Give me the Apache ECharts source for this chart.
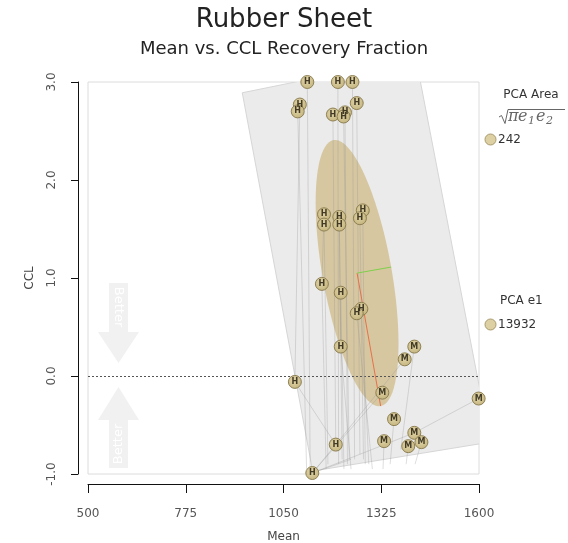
<!DOCTYPE html>
<html>
<head>
<meta charset="utf-8">
<script src="https://cdn.jsdelivr.net/npm/echarts@6/dist/echarts.min.js"></script>
<style>html,body{margin:0;padding:0;background:#fff;}#chart{width:568px;height:543px;}</style>
</head>
<body>
<div id="chart"></div>
<script>
// ---- data ----
const xTicks = [500, 775, 1050, 1325, 1600];
const yTicks = [-1, 0, 1, 2, 3];
const ptX = [1117, 1203, 1244, 1096, 1090, 1256, 1189, 1223, 1219,
             1164, 1164, 1207, 1207, 1273, 1265, 1158, 1211, 1269, 1256,
             1211, 1418, 1391, 1082, 1328, 1599, 1361, 1197, 1333, 1418, 1438, 1401, 1131];
const ptY = [3.0, 3.0, 3.0, 2.77, 2.70, 2.785, 2.668, 2.69, 2.648,
             1.65, 1.545, 1.623, 1.545, 1.69, 1.61, 0.94, 0.85, 0.685, 0.64,
             0.30, 0.30, 0.17, -0.06, -0.17, -0.23, -0.44, -0.70, -0.665, -0.58, -0.675, -0.716, -0.99];
const ptLabel = ['H','H','H','H','H','H','H','H','H',
                 'H','H','H','H','H','H','H','H','H','H',
                 'H','M','M','H','M','M','M','H','M','M','M','M','H'];
const endX = [1125, 1205, 1250, 1082, 1115, 1265, 1197, 1230, 1235,
              1158, 1175, 1211, 1215, 1280, 1275, 1170, 1220, 1290, 1300,
              1240, 1380, 1197, 1197, 1131, 1418, 1350, 1131, 1330, 1131, 1420, 1395, 1240];
const endY = [-0.95, -0.9, -0.85, -0.06, -0.95, -0.8, -0.70, -0.9, -0.85,
              0.94, -0.9, 0.30, -0.85, -0.9, -0.85, -0.95, -0.95, -0.9, -0.95,
              -0.95, -0.75, -0.70, -0.70, -0.99, -0.58, -0.9, -0.99, -0.95, -0.99, -0.9, -0.9, -0.85];
const sheetX = [934, 1422, 1631, 1132];
const sheetY = [2.89, 3.25, -0.675, -0.97];
const ellCenter = [1257, 1.05];
const ellMajor = [66.3, -1.357];
const ellMinor = [95.9, 0.0615];
const legendArea = 242;
const legendE1 = 13932;

// ---- chart ----
const chart = echarts.init(document.getElementById('chart'), null, {renderer: 'canvas'});
const FONT = 'DejaVu Sans';

const pointData = ptX.map((x, i) => [x, ptY[i], ptLabel[i]]);
const linkData = ptX.map((x, i) => [x, ptY[i], endX[i], endY[i]]);

function clipRect(params) {
  const c = params.coordSys;
  return {type: 'rect', shape: {x: c.x, y: c.y, width: c.width, height: c.height}};
}

function mathText(x, y, txt, size) {
  return {type: 'text', x: x, y: y, silent: true,
          style: {text: txt, fill: '#666', font: 'italic ' + size + 'px DejaVu Serif',
                  align: 'left', verticalAlign: 'middle'}};
}

const option = {
  backgroundColor: '#ffffff',
  animation: false,
  title: [
    {text: 'Rubber Sheet', left: 'center', top: 2,
     textStyle: {fontFamily: FONT, fontSize: 26, fontWeight: 'normal', color: '#222'}},
    {text: 'Mean vs. CCL Recovery Fraction', left: 'center', top: 35,
     textStyle: {fontFamily: FONT, fontSize: 18, fontWeight: 'normal', color: '#222'}}
  ],
  grid: {left: 88, right: 89, top: 82, bottom: 69, show: true, containLabel: false,
         outerBoundsMode: 'none',
         borderColor: '#dcdcdc', borderWidth: 1, backgroundColor: 'transparent'},
  xAxis: {
    type: 'value', min: 500, max: 1600, offset: 10,
    name: 'Mean', nameLocation: 'middle', nameGap: 47,
    nameTextStyle: {fontFamily: FONT, fontSize: 12, color: '#444'},
    axisLine: {show: true, onZero: false, lineStyle: {color: '#111', width: 1}},
    axisTick: {show: true, length: 9, lineStyle: {color: '#111'}, customValues: xTicks},
    axisLabel: {fontFamily: FONT, fontSize: 12, color: '#555', margin: 24, customValues: xTicks,
                formatter: v => String(v)},
    splitLine: {show: false}
  },
  yAxis: {
    type: 'value', min: -1, max: 3, interval: 1, offset: 10,
    name: 'CCL', nameLocation: 'middle', nameGap: 42,
    nameTextStyle: {fontFamily: FONT, fontSize: 12, color: '#444'},
    axisLine: {show: true, onZero: false, lineStyle: {color: '#111', width: 1}},
    axisTick: {show: true, length: 7, lineStyle: {color: '#111'}},
    axisLabel: {fontFamily: FONT, fontSize: 12, color: '#555', margin: 20, rotate: 90,
                formatter: v => yTicks.includes(v) ? v.toFixed(1) : ''},
    splitLine: {show: false}
  },
  series: [
    {
      type: 'custom', silent: true, z: 1,
      data: [[sheetX[0], sheetY[0]]],
      renderItem: (params, api) => ({
        type: 'polygon',
        shape: {points: sheetX.map((x, i) => api.coord([x, sheetY[i]]))},
        style: {fill: '#ebebeb', stroke: '#d6d6d6', lineWidth: 1},
        clipPath: clipRect(params)
      })
    },
    {
      type: 'custom', silent: true, z: 2,
      data: [[ellCenter[0], ellCenter[1]]],
      renderItem: (params, api) => {
        const pts = [];
        for (let i = 0; i <= 90; i++) {
          const t = i / 90 * Math.PI * 2;
          pts.push(api.coord([
            ellCenter[0] + Math.cos(t) * ellMajor[0] + Math.sin(t) * ellMinor[0],
            ellCenter[1] + Math.cos(t) * ellMajor[1] + Math.sin(t) * ellMinor[1]]));
        }
        return {type: 'polygon', shape: {points: pts},
                style: {fill: 'rgba(196,170,100,0.55)', stroke: 'none'}};
      }
    },
    {
      type: 'custom', silent: true, z: 3,
      encode: {x: [0, 2], y: [1, 3]},
      data: linkData,
      renderItem: (params, api) => {
        const a = api.coord([api.value(0), api.value(1)]);
        const b = api.coord([api.value(2), api.value(3)]);
        return {type: 'line', shape: {x1: a[0], y1: a[1], x2: b[0], y2: b[1]},
                style: {stroke: 'rgba(150,150,150,0.45)', lineWidth: 0.7},
                clipPath: clipRect(params)};
      }
    },
    {
      type: 'custom', silent: true, z: 4,
      data: [[ellCenter[0], ellCenter[1]]],
      renderItem: (params, api) => {
        const c = api.coord(ellCenter);
        const r = api.coord([ellCenter[0] + ellMajor[0], ellCenter[1] + ellMajor[1]]);
        const g = api.coord([ellCenter[0] + ellMinor[0], ellCenter[1] + ellMinor[1]]);
        return {type: 'group', children: [
          {type: 'line', shape: {x1: c[0], y1: c[1], x2: r[0], y2: r[1]},
           style: {stroke: '#e8704a', lineWidth: 1}},
          {type: 'line', shape: {x1: c[0], y1: c[1], x2: g[0], y2: g[1]},
           style: {stroke: '#7fd04a', lineWidth: 1}}
        ]};
      }
    },
    {
      type: 'scatter', z: 5,
      data: pointData,
      symbol: 'circle', symbolSize: 13,
      itemStyle: {
        color: {type: 'radial', x: 0.45, y: 0.4, r: 0.6,
                colorStops: [{offset: 0, color: '#e2d5a6'}, {offset: 1, color: '#c2b27a'}]},
        borderColor: '#8a7c50', borderWidth: 1, opacity: 0.95
      },
      label: {show: true, position: 'inside', formatter: p => p.data[2],
              fontFamily: FONT, fontSize: 8, fontWeight: 'bold', color: '#3a3320'},
      markLine: {
        silent: true, symbol: 'none', z: 3,
        label: {show: false},
        lineStyle: {type: [2, 2], color: '#555', width: 1},
        data: [{yAxis: 0}]
      }
    }
  ],
  graphic: [
    // "Better" arrows
    {type: 'polygon', z: 0, silent: true,
     shape: {points: [[109, 283], [128, 283], [128, 332], [139, 332], [118.5, 363], [98, 332], [109, 332]]},
     style: {fill: '#f1f1f1'}},
    {type: 'text', z: 1, silent: true, x: 118.5, y: 307, rotation: -Math.PI / 2,
     style: {text: 'Better', fill: '#ffffff', font: '13px DejaVu Sans', align: 'center', verticalAlign: 'middle'}},
    {type: 'polygon', z: 0, silent: true,
     shape: {points: [[118.5, 387], [139, 420], [128, 420], [128, 468], [109, 468], [109, 420], [98, 420]]},
     style: {fill: '#f1f1f1'}},
    {type: 'text', z: 1, silent: true, x: 118.5, y: 444, rotation: Math.PI / 2,
     style: {text: 'Better', fill: '#ffffff', font: '13px DejaVu Sans', align: 'center', verticalAlign: 'middle'}},
    // legend: PCA Area
    {type: 'text', x: 531, y: 95,
     style: {text: 'PCA Area', fill: '#333', font: '12px DejaVu Sans', align: 'center', verticalAlign: 'middle'}},
    {type: 'polyline', silent: true,
     shape: {points: [[499, 117], [501.5, 115.5], [505, 123.5], [508, 109.5], [565, 109.5]]},
     style: {stroke: '#666', lineWidth: 1, fill: null}},
    mathText(508, 117, '\u03C0', 16),
    mathText(518, 117, 'e', 16),
    mathText(528, 121, '1', 11),
    mathText(536, 117, 'e', 16),
    mathText(546, 121, '2', 11),
    {type: 'circle', shape: {cx: 490.5, cy: 139.5, r: 5.5}, style: {fill: '#ddd0a3', stroke: '#a99b6e', lineWidth: 1}},
    {type: 'text', x: 498, y: 140,
     style: {text: String(legendArea), fill: '#333', font: '12px DejaVu Sans', align: 'left', verticalAlign: 'middle'}},
    // legend: PCA e1
    {type: 'text', x: 500, y: 301,
     style: {text: 'PCA e1', fill: '#333', font: '12px DejaVu Sans', align: 'left', verticalAlign: 'middle'}},
    {type: 'circle', shape: {cx: 490.5, cy: 324.5, r: 5.5}, style: {fill: '#ddd0a3', stroke: '#a99b6e', lineWidth: 1}},
    {type: 'text', x: 498, y: 325,
     style: {text: String(legendE1), fill: '#333', font: '12px DejaVu Sans', align: 'left', verticalAlign: 'middle'}}
  ]
};
chart.setOption(option);
</script>
</body>
</html>
